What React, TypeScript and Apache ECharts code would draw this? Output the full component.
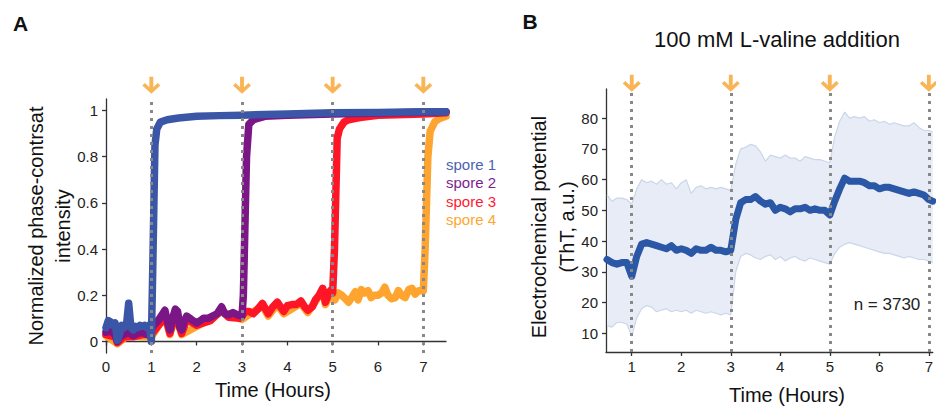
import React, { useEffect, useRef } from "react";
import * as echarts from "echarts";

// ---------- Panel A data (time in hours, normalized intensity) ----------
const spore1: [number, number][] = [
  [0, 0.06], [0.05, 0.09], [0.1, 0.085], [0.15, 0.07], [0.2, 0.08], [0.25, 0.005], [0.3, 0.03],
  [0.35, 0.07], [0.4, 0.06], [0.45, 0.07], [0.5, 0.165], [0.55, 0.06], [0.6, 0.05], [0.65, 0.065],
  [0.7, 0.06], [0.75, 0.07], [0.8, 0.065], [0.85, 0.07], [0.9, 0.06], [0.95, 0.07], [1.0, 0.0],
  [1.03, 0.3], [1.08, 0.85], [1.12, 0.92], [1.2, 0.95], [1.35, 0.96], [1.6, 0.968], [2.0, 0.975],
  [2.5, 0.978], [3.0, 0.98], [4.0, 0.985], [5.0, 0.99], [6.0, 0.992], [7.0, 0.995], [7.5, 0.995],
];
const spore2: [number, number][] = [
  [0, 0.04], [0.1, 0.045], [0.2, 0.03], [0.25, 0.0], [0.3, 0.02], [0.4, 0.03], [0.5, 0.04],
  [0.6, 0.025], [0.7, 0.035], [0.8, 0.04], [0.9, 0.03], [1.0, 0.05], [1.05, 0.07], [1.15, 0.09],
  [1.25, 0.12], [1.3, 0.135], [1.35, 0.09], [1.41, 0.05], [1.47, 0.1], [1.53, 0.14], [1.58, 0.13],
  [1.63, 0.06], [1.67, 0.05], [1.73, 0.09], [1.78, 0.11], [1.85, 0.1], [1.92, 0.09], [2.0, 0.08],
  [2.08, 0.09], [2.15, 0.1], [2.25, 0.1], [2.35, 0.11], [2.45, 0.12], [2.55, 0.15], [2.62, 0.12],
  [2.7, 0.115], [2.8, 0.125], [2.9, 0.115], [3.0, 0.11], [3.03, 0.2], [3.1, 0.8], [3.15, 0.94],
  [3.25, 0.96], [3.5, 0.975], [4.0, 0.98], [5.0, 0.985], [7.5, 0.995],
];
const spore3: [number, number][] = [
  [0, 0.03], [0.2, 0.02], [0.25, -0.005], [0.4, 0.02], [0.6, 0.02], [0.8, 0.03], [1.0, 0.03],
  [1.2, 0.08], [1.3, 0.12], [1.41, 0.035], [1.53, 0.125], [1.67, 0.035], [1.78, 0.095], [2.0, 0.07],
  [2.3, 0.09], [2.55, 0.135], [2.7, 0.105], [2.95, 0.1], [3.0, 0.11], [3.08, 0.13], [3.15, 0.13],
  [3.25, 0.12], [3.35, 0.14], [3.45, 0.165], [3.52, 0.14], [3.58, 0.12], [3.68, 0.15], [3.78, 0.17],
  [3.85, 0.15], [3.92, 0.13], [4.0, 0.155], [4.1, 0.16], [4.2, 0.16], [4.3, 0.175], [4.38, 0.15],
  [4.45, 0.135], [4.55, 0.15], [4.62, 0.18], [4.7, 0.2], [4.78, 0.23], [4.84, 0.17], [4.9, 0.2],
  [4.95, 0.22], [5.0, 0.21], [5.04, 0.4], [5.1, 0.88], [5.15, 0.92], [5.25, 0.95], [5.35, 0.96],
  [5.6, 0.97], [6.0, 0.98], [7.0, 0.985], [7.5, 0.99],
];
const spore4: [number, number][] = [
  [0, 0.025], [0.25, -0.01], [0.5, 0.03], [0.8, 0.02], [1.0, 0.02], [1.3, 0.11], [1.41, 0.03],
  [1.53, 0.115], [1.67, 0.03], [2.0, 0.065], [2.55, 0.13], [3.0, 0.095], [3.45, 0.155], [3.58, 0.11],
  [3.78, 0.16], [3.92, 0.12], [4.3, 0.165], [4.45, 0.125], [4.78, 0.22], [4.84, 0.16], [4.95, 0.2],
  [5.0, 0.2], [5.05, 0.18], [5.12, 0.21], [5.2, 0.2], [5.28, 0.185], [5.35, 0.17], [5.42, 0.19],
  [5.5, 0.215], [5.56, 0.18], [5.63, 0.225], [5.7, 0.21], [5.78, 0.22], [5.85, 0.19], [5.92, 0.2],
  [6.0, 0.2], [6.08, 0.21], [6.15, 0.235], [6.22, 0.2], [6.3, 0.185], [6.38, 0.19], [6.45, 0.22],
  [6.52, 0.2], [6.6, 0.19], [6.68, 0.225], [6.75, 0.23], [6.82, 0.205], [6.9, 0.22], [7.0, 0.22],
  [7.04, 0.4], [7.1, 0.8], [7.15, 0.91], [7.25, 0.95], [7.35, 0.965], [7.5, 0.975],
];
const sporeNames = ["spore 1", "spore 2", "spore 3", "spore 4"];
const sporeColors = ["#3b56a7", "#7a1686", "#ff1626", "#ffa42e"];
const sporeLegendColors = ["#4b63b2", "#7d1f8f", "#ff1a30", "#ffa630"];
const yTicksA = [0, 0.2, 0.4, 0.6, 0.8, 1];
const xTicksA = [0, 1, 2, 3, 4, 5, 6, 7];

// ---------- Panel B data ----------
const timeB = [
  0.5, 0.6, 0.7, 0.8, 0.9, 1.0,
  1.1, 1.2, 1.3, 1.4, 1.5, 1.6, 1.7, 1.8, 1.9, 2.0,
  2.1, 2.2, 2.3, 2.4, 2.5, 2.6, 2.7, 2.8, 2.9, 3.0,
  3.1, 3.2, 3.3, 3.4, 3.5, 3.6, 3.7, 3.8, 3.9, 4.0,
  4.1, 4.2, 4.3, 4.4, 4.5, 4.6, 4.7, 4.8, 4.9, 5.0,
  5.1, 5.2, 5.3, 5.4, 5.5, 5.6, 5.7, 5.8, 5.9, 6.0,
  6.1, 6.2, 6.3, 6.4, 6.5, 6.6, 6.7, 6.8, 6.9, 7.0, 7.08,
];
const meanB = [
  34, 33, 32.5, 33, 33, 28.5,
  35, 39, 39.5, 39, 38.5, 38, 37.5, 38.5, 37, 37.5,
  37, 36, 37.5, 37, 37, 38, 37, 37, 36.5, 37,
  47, 52.5, 53.5, 53.5, 54.5, 53, 52, 52.5, 50, 51,
  50.5, 49.5, 50.5, 50.5, 51, 50, 50.5, 50, 50, 48.5,
  53, 57, 60.5, 59.5, 59.5, 59.5, 59, 58, 58, 57,
  57.5, 57.5, 57, 56.5, 56, 55.5, 56, 55.5, 55, 53.5, 53,
];
const upperB = [
  55, 53, 54, 54, 53.5, 52,
  57, 60, 59, 59.5, 58.5, 60, 58.5, 59, 57, 59,
  60, 55.5, 57.5, 58, 57, 57.5, 57, 57.5, 57, 56.5,
  65, 70, 70.5, 71.5, 71, 69, 66, 68, 67.5, 67,
  68, 67, 67, 66, 67.5, 67, 66.5, 66.5, 66, 65.5,
  74, 79, 82, 80, 80.5, 80, 80.5, 79, 79.5, 78.5,
  79, 78, 78.5, 78, 77.5, 77.5, 78.5, 77, 76, 76, 75.5,
];
const lowerB = [
  12.5, 12, 13.5, 13.5, 13, 9,
  15, 18, 19, 18.5, 17, 17.5, 18, 17, 17.5, 17,
  17.5, 16.5, 17.5, 17, 16.5, 17, 16.5, 16, 16.5, 16,
  30, 35, 36, 35.5, 34.5, 34, 35, 35.5, 34, 35,
  33.5, 34.5, 35, 34, 33.5, 34.5, 34, 33.5, 33, 32.5,
  36, 38, 39, 39.5, 39, 38.5, 38, 37.5, 37, 36.5,
  36, 36, 35.5, 35, 34.5, 35, 34.5, 34, 34, 33.5, 33,
];
const yTicksB = [10, 20, 30, 40, 50, 60, 70, 80];
const xTicksB = [1, 2, 3, 4, 5, 6, 7];
const additionTimes = [1, 3, 5, 7];

const FONT = "'Liberation Sans', Arial, Helvetica, sans-serif";
const ARROW = "path://M5.5,0 L8.5,0 L8.5,9 L12,5.5 L14,7.5 L7,14.5 L0,7.5 L2,5.5 L5.5,9 Z";

export default function App() {
  const ref = useRef<HTMLDivElement>(null);

  useEffect(() => {
    document.body.style.margin = "0";
    if (!ref.current) return;
    const chart = echarts.init(ref.current, undefined, { renderer: "svg" });

    const axisLine = { lineStyle: { color: "#333", width: 1.3 } };
    const axisTick = (vals: number[]) => ({
      show: true,
      length: 4,
      lineStyle: { color: "#333", width: 1.3 },
      customValues: vals,
    });
    const axisLabel = (vals: number[], margin: number) => ({
      customValues: vals,
      fontSize: 15,
      color: "#222",
      fontFamily: FONT,
      margin,
    });

    const markLine = {
      silent: true,
      symbol: ["none", "none"],
      label: { show: false },
      lineStyle: { type: [3, 5], color: "#888", width: 3, cap: "butt" },
      data: additionTimes.map((t) => ({ xAxis: t })),
    };

    const lineSeriesA = [3, 2, 1, 0].map((i) => ({
      name: sporeNames[i],
      type: "line",
      xAxisIndex: 0,
      yAxisIndex: 0,
      data: [spore1, spore2, spore3, spore4][i],
      showSymbol: false,
      symbol: "none",
      lineStyle: { color: sporeColors[i], width: 7.5, cap: "round", join: "round" },
      itemStyle: { color: sporeColors[i] },
      z: 2,
    }));

    chart.setOption({
      animation: false,
      textStyle: { fontFamily: FONT },
      grid: [
        { left: 106, top: 99, width: 340, height: 254 },
        { left: 606, top: 89, width: 330, height: 263 },
      ],
      xAxis: [
        {
          type: "value",
          gridIndex: 0,
          min: 0,
          max: 7.5,
          axisLine,
          axisTick: axisTick(xTicksA),
          axisLabel: axisLabel(xTicksA, 6),
          splitLine: { show: false },
        },
        {
          type: "value",
          gridIndex: 1,
          min: 0.48,
          max: 7.08,
          axisLine,
          axisTick: axisTick(xTicksB),
          axisLabel: axisLabel(xTicksB, 7),
          splitLine: { show: false },
        },
      ],
      yAxis: [
        {
          type: "value",
          gridIndex: 0,
          min: -0.05,
          max: 1.05,
          axisLine: { show: true, ...axisLine },
          axisTick: axisTick(yTicksA),
          axisLabel: axisLabel(yTicksA, 8),
          splitLine: { show: false },
        },
        {
          type: "value",
          gridIndex: 1,
          min: 3.9,
          max: 89.5,
          axisLine: { show: true, ...axisLine },
          axisTick: axisTick(yTicksB),
          axisLabel: axisLabel(yTicksB, 8),
          splitLine: { show: false },
        },
      ],
      legend: {
        orient: "vertical",
        left: 436,
        top: 152,
        itemWidth: 0,
        itemHeight: 15,
        itemGap: 3.3,
        icon: "none",
        selectedMode: false,
        textStyle: { fontSize: 15, fontFamily: FONT },
        data: sporeNames.map((n, i) => ({ name: n, textStyle: { color: sporeLegendColors[i] } })),
      },
      series: [
        ...lineSeriesA,
        {
          type: "scatter",
          xAxisIndex: 0,
          yAxisIndex: 0,
          data: additionTimes.map((t) => [t, 1.11]),
          symbol: ARROW,
          symbolSize: [18, 17],
          itemStyle: { color: "#f8a12c" },
          clip: false,
          silent: true,
          z: 10,
          markLine,
        },
        {
          type: "custom",
          xAxisIndex: 1,
          yAxisIndex: 1,
          data: [0],
          silent: true,
          z: 1,
          renderItem: (_params: any, api: any) => {
            const pts: number[][] = [];
            for (let i = 0; i < timeB.length; i++) pts.push(api.coord([timeB[i], upperB[i]]));
            for (let i = timeB.length - 1; i >= 0; i--) pts.push(api.coord([timeB[i], lowerB[i]]));
            return {
              type: "polygon",
              shape: { points: pts },
              style: { fill: "#e7ecf6", stroke: "none" },
            };
          },
        },
        {
          type: "line",
          xAxisIndex: 1,
          yAxisIndex: 1,
          data: timeB.map((t, i) => [t, upperB[i]]),
          showSymbol: false,
          symbol: "none",
          lineStyle: { color: "#ccd6ea", width: 1.2 },
          silent: true,
          z: 2,
        },
        {
          type: "line",
          xAxisIndex: 1,
          yAxisIndex: 1,
          data: timeB.map((t, i) => [t, lowerB[i]]),
          showSymbol: false,
          symbol: "none",
          lineStyle: { color: "#ccd6ea", width: 1.2 },
          silent: true,
          z: 2,
        },
        {
          type: "line",
          xAxisIndex: 1,
          yAxisIndex: 1,
          data: timeB.map((t, i) => [t, meanB[i]]),
          showSymbol: false,
          symbol: "none",
          lineStyle: { color: "#2b57a7", width: 7, cap: "round", join: "round" },
          silent: true,
          z: 3,
        },
        {
          type: "scatter",
          xAxisIndex: 1,
          yAxisIndex: 1,
          data: additionTimes.map((t) => [t, 91.4]),
          symbol: ARROW,
          symbolSize: [18, 17],
          itemStyle: { color: "#f8a12c" },
          clip: false,
          silent: true,
          z: 10,
          markLine,
        },
      ],
      graphic: [
        {
          type: "text",
          x: 20.5,
          y: 23,
          style: { text: "A", font: `bold 21px ${FONT}`, fill: "#111", textAlign: "center", textVerticalAlign: "middle" },
        },
        {
          type: "text",
          x: 530,
          y: 21,
          style: { text: "B", font: `bold 21px ${FONT}`, fill: "#111", textAlign: "center", textVerticalAlign: "middle" },
        },
        {
          type: "text",
          x: 777,
          y: 39,
          style: { text: "100 mM L-valine addition", font: `22px ${FONT}`, fill: "#111", textAlign: "center", textVerticalAlign: "middle" },
        },
        {
          type: "text",
          x: 49.5,
          y: 226,
          rotation: Math.PI / 2,
          style: {
            text: "Normalized phase-contrsat\nintensity",
            font: `20px ${FONT}`,
            lineHeight: 27,
            fill: "#111",
            textAlign: "center",
            textVerticalAlign: "middle",
          },
        },
        {
          type: "text",
          x: 553,
          y: 227,
          rotation: Math.PI / 2,
          style: {
            text: "Electrochemical potential\n(ThT, a.u.)",
            font: `20px ${FONT}`,
            lineHeight: 28,
            fill: "#111",
            textAlign: "center",
            textVerticalAlign: "middle",
          },
        },
        {
          type: "text",
          x: 273,
          y: 390,
          style: { text: "Time (Hours)", font: `20px ${FONT}`, fill: "#111", textAlign: "center", textVerticalAlign: "middle" },
        },
        {
          type: "text",
          x: 787,
          y: 395,
          style: { text: "Time (Hours)", font: `20px ${FONT}`, fill: "#111", textAlign: "center", textVerticalAlign: "middle" },
        },
        {
          type: "text",
          x: 887,
          y: 304,
          style: { text: "n = 3730", font: `17px ${FONT}`, fill: "#222", textAlign: "center", textVerticalAlign: "middle" },
        },
      ],
    });

    return () => chart.dispose();
  }, []);

  return <div ref={ref} style={{ width: 936, height: 407 }} />;
}
